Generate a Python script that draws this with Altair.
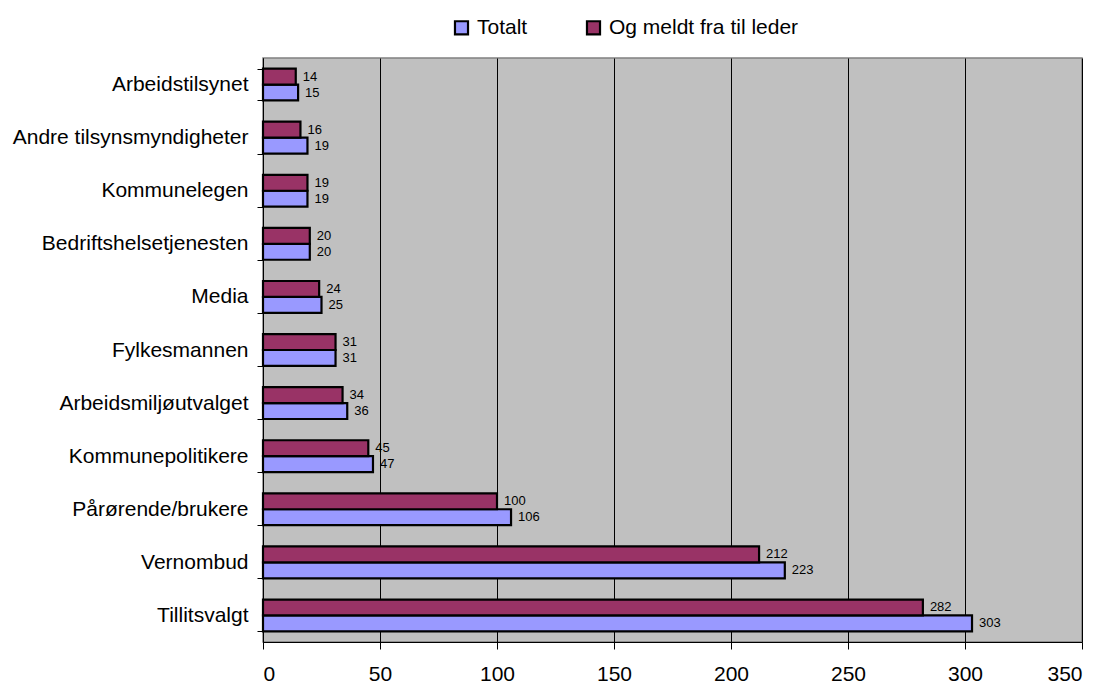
import altair as alt
import pandas as pd

categories = ["Arbeidstilsynet", "Andre tilsynsmyndigheter", "Kommunelegen",
              "Bedriftshelsetjenesten", "Media", "Fylkesmannen",
              "Arbeidsmiljøutvalget", "Kommunepolitikere", "Pårørende/brukere",
              "Vernombud", "Tillitsvalgt"]
totalt = [15, 19, 19, 20, 25, 31, 36, 47, 106, 223, 303]
meldt = [14, 16, 19, 20, 24, 31, 34, 45, 100, 212, 282]
series = ["Totalt", "Og meldt fra til leder"]
x_ticks = [0, 50, 100, 150, 200, 250, 300, 350]

rows = []
for c, t, m in zip(categories, totalt, meldt):
    rows.append({"kategori": c, "serie": series[0], "verdi": t})
    rows.append({"kategori": c, "serie": series[1], "verdi": m})
df = pd.DataFrame(rows)

FONT = "Liberation Sans"

y_enc = alt.Y("kategori:N", sort=categories,
              scale=alt.Scale(paddingInner=0.4, paddingOuter=0.2),
              axis=alt.Axis(title=None, labelFontSize=21, labelFont=FONT,
                            labelColor="black", tickBand="extent", tickSize=6,
                            tickColor="black", domainColor="black",
                            labelPadding=9, grid=False, labelLimit=400))
yoff = alt.YOffset("serie:N", sort=[series[1], series[0]],
                   scale=alt.Scale(paddingInner=0, paddingOuter=0))
x_enc = alt.X("verdi:Q",
              scale=alt.Scale(domain=[0, 350], nice=False),
              axis=alt.Axis(title=None, values=x_ticks, labelFontSize=21,
                            labelFont=FONT, labelColor="black", tickSize=7,
                            tickColor="black", domainColor="black",
                            labelPadding=14, grid=True, gridColor="black",
                            gridWidth=1, gridOpacity=1))

bars = alt.Chart(df).mark_bar(stroke="black", strokeWidth=2.2).encode(
    x=x_enc, y=y_enc, yOffset=yoff,
    color=alt.Color("serie:N",
                    scale=alt.Scale(domain=series, range=["#9999FF", "#993366"]),
                    legend=alt.Legend(title=None, orient="none", direction="horizontal",
                                      legendX=188, legendY=-41,
                                      symbolType="square", symbolSize=170,
                                      symbolStrokeColor="black", symbolStrokeWidth=2.2,
                                      labelFontSize=21, labelFont=FONT,
                                      labelColor="black", labelOffset=5,
                                      labelLimit=400, columnPadding=54)),
)

labels = alt.Chart(df).mark_text(align="left", baseline="middle", dx=7,
                                 fontSize=13, font=FONT, color="black").encode(
    x=alt.X("verdi:Q"), y=alt.Y("kategori:N", sort=categories), yOffset=yoff,
    text="verdi:Q",
)

chart = (bars + labels).properties(
    width=819, height=584,
    autosize=alt.AutoSizeParams(type="none"),
    padding={"left": 263, "top": 58, "right": 21, "bottom": 44},
    background="white",
).configure_view(fill="#C0C0C0", stroke="#808080", strokeWidth=1.5)

chart.save("out.html", embed_options={"renderer": "svg", "actions": False})
